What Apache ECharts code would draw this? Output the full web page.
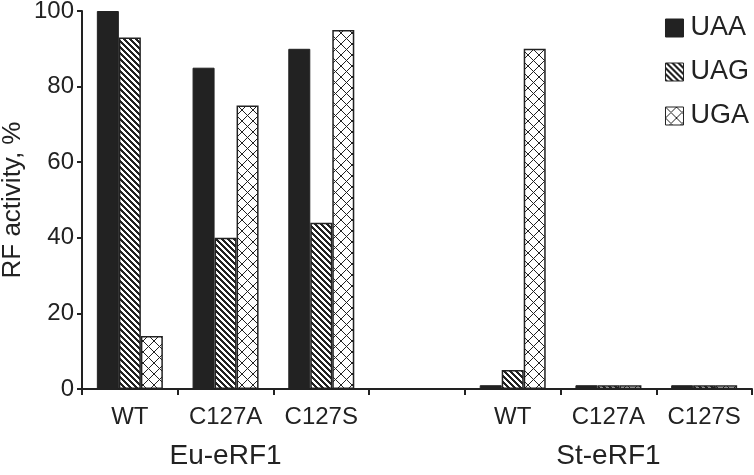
<!DOCTYPE html>
<html>
<head>
<meta charset="utf-8">
<script src="https://cdn.jsdelivr.net/npm/echarts@6/dist/echarts.min.js"></script>
<style>
  html, body { margin: 0; padding: 0; background: #fff; }
  #chart { width: 754px; height: 475px; }
</style>
</head>
<body>
<div id="chart"></div>
<script>
// categories (empty one is the gap between the two groups)
var categories = ["WT", "C127A", "C127S", "", "WT", "C127A", "C127S"];
var groupLabels = ["", "Eu-eRF1", "", "", "", "St-eRF1", ""];
var yTicks = [0, 20, 40, 60, 80, 100];

// RF activity, %
var uaa = [100, 85, 90, null, 1, 1, 1];
var uag = [93, 40, 44, null, 5, 1, 1];
var uga = [14, 75, 95, null, 90, 1, 1];

var ink = "#222";

// diagonal stripes, "\" direction
function stripePattern() {
  var n = 6;
  var c = document.createElement("canvas");
  c.width = n; c.height = n;
  var ctx = c.getContext("2d");
  ctx.fillStyle = "#fff";
  ctx.fillRect(0, 0, n, n);
  ctx.fillStyle = ink;
  for (var y = 0; y < n; y++) {
    for (var x = 0; x < n; x++) {
      if ((((x - y) % n) + n) % n < 3) ctx.fillRect(x, y, 1, 1);
    }
  }
  return c;
}

// thin diagonal cross hatch
function crossPattern() {
  var n = 11;
  var c = document.createElement("canvas");
  c.width = n; c.height = n;
  var ctx = c.getContext("2d");
  ctx.fillStyle = "#fff";
  ctx.fillRect(0, 0, n, n);
  ctx.fillStyle = ink;
  for (var y = 0; y < n; y++) {
    for (var x = 0; x < n; x++) {
      if (x === y || x + y === n - 1) ctx.fillRect(x, y, 1, 1);
    }
  }
  return c;
}

var font = "Liberation Sans";
var chart = echarts.init(document.getElementById("chart"));

var barBase = {
  type: "bar",
  barWidth: 22,
  barGap: "0%",
  animation: false,
  emphasis: { disabled: true }
};

chart.setOption({
  backgroundColor: "#fff",
  textStyle: { fontFamily: font, color: ink },
  grid: { left: 82, right: 2, top: 11, bottom: 86, containLabel: false, outerBoundsMode: "none" },
  legend: {
    orient: "vertical",
    right: 0,
    top: 9,
    itemWidth: 18,
    itemHeight: 18,
    itemGap: 16,
    icon: "rect",
    textStyle: { fontSize: 27, lineHeight: 28, color: ink, fontFamily: font, padding: [0, 0, 0, 2] },
    itemStyle: { borderColor: ink, borderWidth: 1 },
    data: ["UAA", "UAG", "UGA"]
  },
  xAxis: [
    {
      type: "category",
      data: categories,
      boundaryGap: true,
      axisLine: { show: true, lineStyle: { color: ink, width: 2 } },
      axisTick: { show: true, length: 6, lineStyle: { color: ink, width: 2 } },
      axisLabel: { fontSize: 24, color: ink, margin: 16, fontFamily: font, interval: 0 },
      splitLine: { show: false }
    },
    {
      type: "category",
      data: groupLabels,
      position: "bottom",
      boundaryGap: true,
      axisLine: { show: false },
      axisTick: { show: false },
      axisLabel: { fontSize: 28, color: ink, margin: 53, fontFamily: font, interval: 0 },
      splitLine: { show: false }
    }
  ],
  yAxis: {
    type: "value",
    min: yTicks[0],
    max: yTicks[yTicks.length - 1],
    interval: yTicks[1] - yTicks[0],
    name: "RF activity, %",
    nameLocation: "middle",
    nameGap: 56,
    nameMoveOverlap: false,
    nameTextStyle: { fontSize: 26, color: ink, fontFamily: font },
    axisLine: { show: true, lineStyle: { color: ink, width: 2 } },
    axisTick: { show: true, length: 5, lineStyle: { color: ink, width: 2 } },
    axisLabel: { fontSize: 24, color: ink, margin: 8, fontFamily: font },
    splitLine: { show: false }
  },
  series: [
    Object.assign({}, barBase, {
      name: "UAA",
      data: uaa,
      itemStyle: { color: ink, borderColor: ink, borderWidth: 1 }
    }),
    Object.assign({}, barBase, {
      name: "UAG",
      data: uag,
      itemStyle: { color: { image: stripePattern(), repeat: "repeat" }, borderColor: ink, borderWidth: 1.5 }
    }),
    Object.assign({}, barBase, {
      name: "UGA",
      data: uga,
      itemStyle: { color: { image: crossPattern(), repeat: "repeat" }, borderColor: ink, borderWidth: 1.5 }
    })
  ]
});
</script>
</body>
</html>
